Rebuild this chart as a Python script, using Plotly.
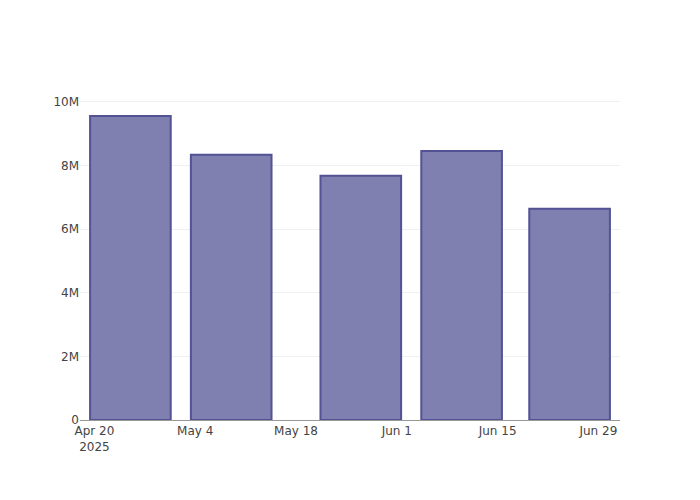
import plotly.graph_objects as go

dates = ["2025-04-25", "2025-05-09", "2025-05-27", "2025-06-10", "2025-06-25"]
values = [9560000, 8340000, 7680000, 8460000, 6640000]

fig = go.Figure(
    go.Bar(
        x=dates,
        y=values,
        marker=dict(color="rgb(127,127,176)", line=dict(color="rgb(82,82,148)", width=2)),
    )
)
fig.update_layout(
    template="plotly_white",
    width=700,
    height=500,
    margin=dict(l=72, r=88, t=92, b=88),
    showlegend=False,
    font=dict(family="DejaVu Sans", size=12, color="#444"),
    xaxis=dict(
        range=["2025-04-18", "2025-07-02"],
        showgrid=False,
        showline=True,
        linecolor="#999",
        linewidth=1,
        dtick=14 * 24 * 3600 * 1000,
        tick0="2025-04-20",
    ),
    yaxis=dict(
        range=[0, 10060000],
        gridcolor="#f0f0f0",
        zeroline=False,
        tickformat="~s",
        dtick=2000000,
    ),
)
fig.write_html("out.html")
